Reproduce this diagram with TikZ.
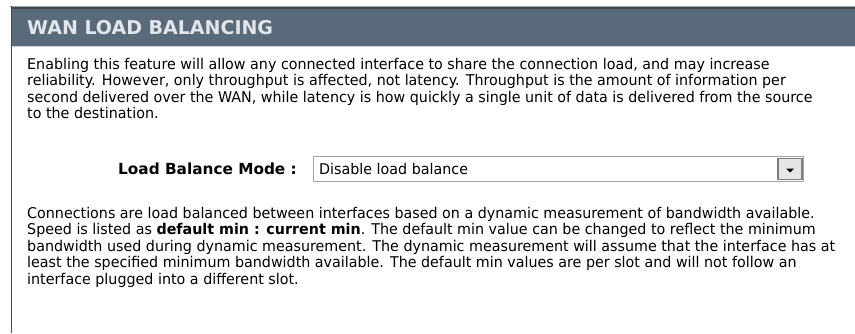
\documentclass[tikz,border=0pt]{standalone}
\usepackage{fontspec}
\setmainfont{DejaVu Sans}
\newfontfamily\uifont{DejaVu Sans}[FakeStretch=0.965]
\newfontfamily\headfont{DejaVu Sans}
\definecolor{headfill}{HTML}{596B7B}
\definecolor{headtext}{HTML}{E2E6EA}
\definecolor{headline}{HTML}{3E4750}
\definecolor{framegray}{HTML}{4A4A4A}
\definecolor{boxedge}{HTML}{A5A5A5}
\definecolor{btnfill}{HTML}{E6E6E6}
\definecolor{btnedge}{HTML}{7C7C7C}
\tikzset{
  body/.style={anchor=base west, inner sep=0pt, text=black,
    font=\uifont\fontsize{14.8}{16.5}\selectfont},
  label/.style={anchor=base east, inner sep=0pt, text=black,
    font=\headfont\bfseries\fontsize{15.3}{16.5}\selectfont},
  title/.style={anchor=base west, inner sep=0pt, text=headtext,
    font=\headfont\bfseries\fontsize{19}{22}\selectfont},
}
\begin{document}
\begin{tikzpicture}[x=1pt,y=-1pt]
  % page area
  \fill[white] (0,0) rectangle (855,333);
  \useasboundingbox (0,0) rectangle (855,333);
  % panel frame and header band
  \fill[headfill] (12,8.5) rectangle (855,46);
  \draw[line width=1pt, boxedge] (10,6.5) -- (855,6.5);
  \draw[line width=1.2pt, headline] (11,8) -- (855,8);
  \draw[line width=1pt, white!70!headfill] (12,46.5) -- (855,46.5);
  \draw[line width=1.5pt, framegray] (11.5,6) -- (11.5,333);
  \node[title] (title) at (27,34.5) {WAN LOAD BALANCING};

  % introductory paragraph
  \node[body] (p1a) at (27,69) {Enabling this feature will allow any connected interface to share the connection load, and may increase};
  \node[body] (p1b) at (27,85.5) {reliability. However, only throughput is affected, not latency. Throughput is the amount of information per};
  \node[body] (p1c) at (27,102) {second delivered over the WAN, while latency is how quickly a single unit of data is delivered from the source};
  \node[body] (p1d) at (27,118.5) {to the destination.};

  % mode selector
  \node[label] (modelabel) at (297,174) {Load Balance Mode :};
  \draw[boxedge, line width=1pt, fill=white] (313.5,156.5) rectangle (803.5,181.5);
  \node[body] (modevalue) at (319,174) {Disable load balance};
  \node[draw=btnedge, line width=1.6pt, fill=btnfill, minimum width=24pt,
        minimum height=21pt, inner sep=0pt] (dropbtn) at (790,169) {};
  \fill[black] ([xshift=-4pt,yshift=0.5pt]dropbtn.center) -- ([xshift=4pt,yshift=0.5pt]dropbtn.center)
     -- ([yshift=-3.5pt]dropbtn.center) -- cycle;

  % explanatory paragraph
  \node[body] (p2a) at (27,218) {Connections are load balanced between interfaces based on a dynamic measurement of bandwidth available.};
  \node[body] (p2b) at (27,234.5) {Speed is listed as \textbf{default min : current min}. The default min value can be changed to reflect the minimum};
  \node[body] (p2c) at (27,251) {bandwidth used during dynamic measurement. The dynamic measurement will assume that the interface has at};
  \node[body] (p2d) at (27,267.5) {least the specified minimum bandwidth available. The default min values are per slot and will not follow an};
  \node[body] (p2e) at (27,284) {interface plugged into a different slot.};
\end{tikzpicture}
\end{document}
